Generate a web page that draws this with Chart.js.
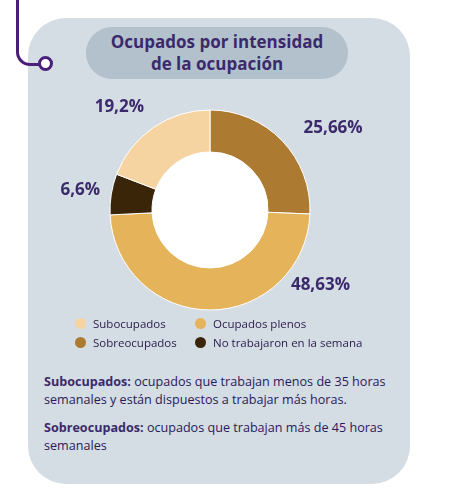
<!DOCTYPE html>
<html><head><meta charset="utf-8">
<script src="https://cdn.jsdelivr.net/npm/chart.js@4"></script>
<style>
body{margin:0;width:453px;height:494px;background:#fff;font-family:"Open Sans",sans-serif;position:relative;overflow:hidden}
#card{position:absolute;left:28px;top:18px;width:382px;height:466px;background:#d4dce4;border-radius:38px}
#title{position:absolute;left:86px;top:27px;width:262px;height:52px;background:#b3c1cd;border-radius:26px;color:#3b2a6b;font-weight:700;font-size:17px;text-align:center;line-height:22px;padding-top:4px;box-sizing:border-box}
#line{position:absolute;left:16px;top:0;width:22px;height:63px;border-left:3px solid #4a1f7a;border-bottom:3px solid #4a1f7a;border-bottom-left-radius:14px}
#dot{position:absolute;left:38px;top:56px;width:9px;height:9px;border:3px solid #4a1f7a;border-radius:50%;background:#fff}
#wrap{position:absolute;left:0;top:90px;width:420px;height:240px}
.leg{position:absolute;font-size:11.5px;color:#2a1a4a}
.leg i{display:inline-block;width:11px;height:11px;border-radius:50%;margin-right:7px;vertical-align:-1px}
.note{position:absolute;left:44px;font-size:12.6px;color:#2a1a5a;line-height:18px;width:360px}
.note b{color:#3b2a6b}
</style></head><body>
<div id="card"></div>
<div id="line"></div><div id="dot"></div>
<div id="title">Ocupados por intensidad<br>de la ocupación</div>
<div id="wrap"><canvas id="c" width="420" height="240"></canvas></div>
<div class="leg" style="left:75px;top:316px"><i style="background:#f5d4a2"></i>Subocupados</div>
<div class="leg" style="left:195px;top:316px"><i style="background:#e4b35a"></i>Ocupados plenos</div>
<div class="leg" style="left:75px;top:335px"><i style="background:#ad7a32"></i>Sobreocupados</div>
<div class="leg" style="left:195px;top:335px"><i style="background:#3b2509"></i>No trabajaron en la semana</div>
<div class="note" style="top:373px"><b>Subocupados:</b> ocupados que trabajan menos de 35 horas semanales y están dispuestos a trabajar más horas.</div>
<div class="note" style="top:419px"><b>Sobreocupados:</b> ocupados que trabajan más de 45 horas semanales</div>
<script>
const categories=["Sobreocupados","Ocupados plenos","No trabajaron en la semana","Subocupados"];
const values=[25.66,48.63,6.6,19.2];
const labelsTxt=["25,66%","48,63%","6,6%","19,2%"];
const colors=["#ad7a32","#e4b35a","#3b2509","#f5d4a2"];
const offsets=[[51,-13],[110,-25],[-31,-4],[-34,-20]];
const outLabels={id:"out",
 beforeDatasetsDraw(ch){const a=ch.getDatasetMeta(0).data[0];if(!a)return;const ctx=ch.ctx;ctx.save();ctx.fillStyle="#fff";ctx.beginPath();ctx.arc(a.x,a.y,a.innerRadius+1,0,Math.PI*2);ctx.fill();ctx.restore();},
 afterDatasetsDraw(ch){
 const ctx=ch.ctx;ctx.save();ctx.font="bold 17px 'Open Sans'";ctx.fillStyle="#3b2a6b";ctx.textAlign="center";ctx.textBaseline="middle";
 ch.getDatasetMeta(0).data.forEach((a,i)=>{const m=(a.startAngle+a.endAngle)/2;const r=a.outerRadius;
  ctx.fillText(labelsTxt[i],a.x+Math.cos(m)*r+offsets[i][0],a.y+Math.sin(m)*r+offsets[i][1]);});
 ctx.restore();}};
new Chart(document.getElementById("c"),{type:"doughnut",
 data:{labels:categories,datasets:[{data:values,backgroundColor:colors,borderColor:"#fff",borderWidth:1}]},
 options:{responsive:false,animation:false,cutout:"58%",radius:100,
  layout:{padding:{top:10,bottom:10}},
  plugins:{legend:{display:false},tooltip:{enabled:false}}},
 plugins:[outLabels]});
</script>
</body></html>
